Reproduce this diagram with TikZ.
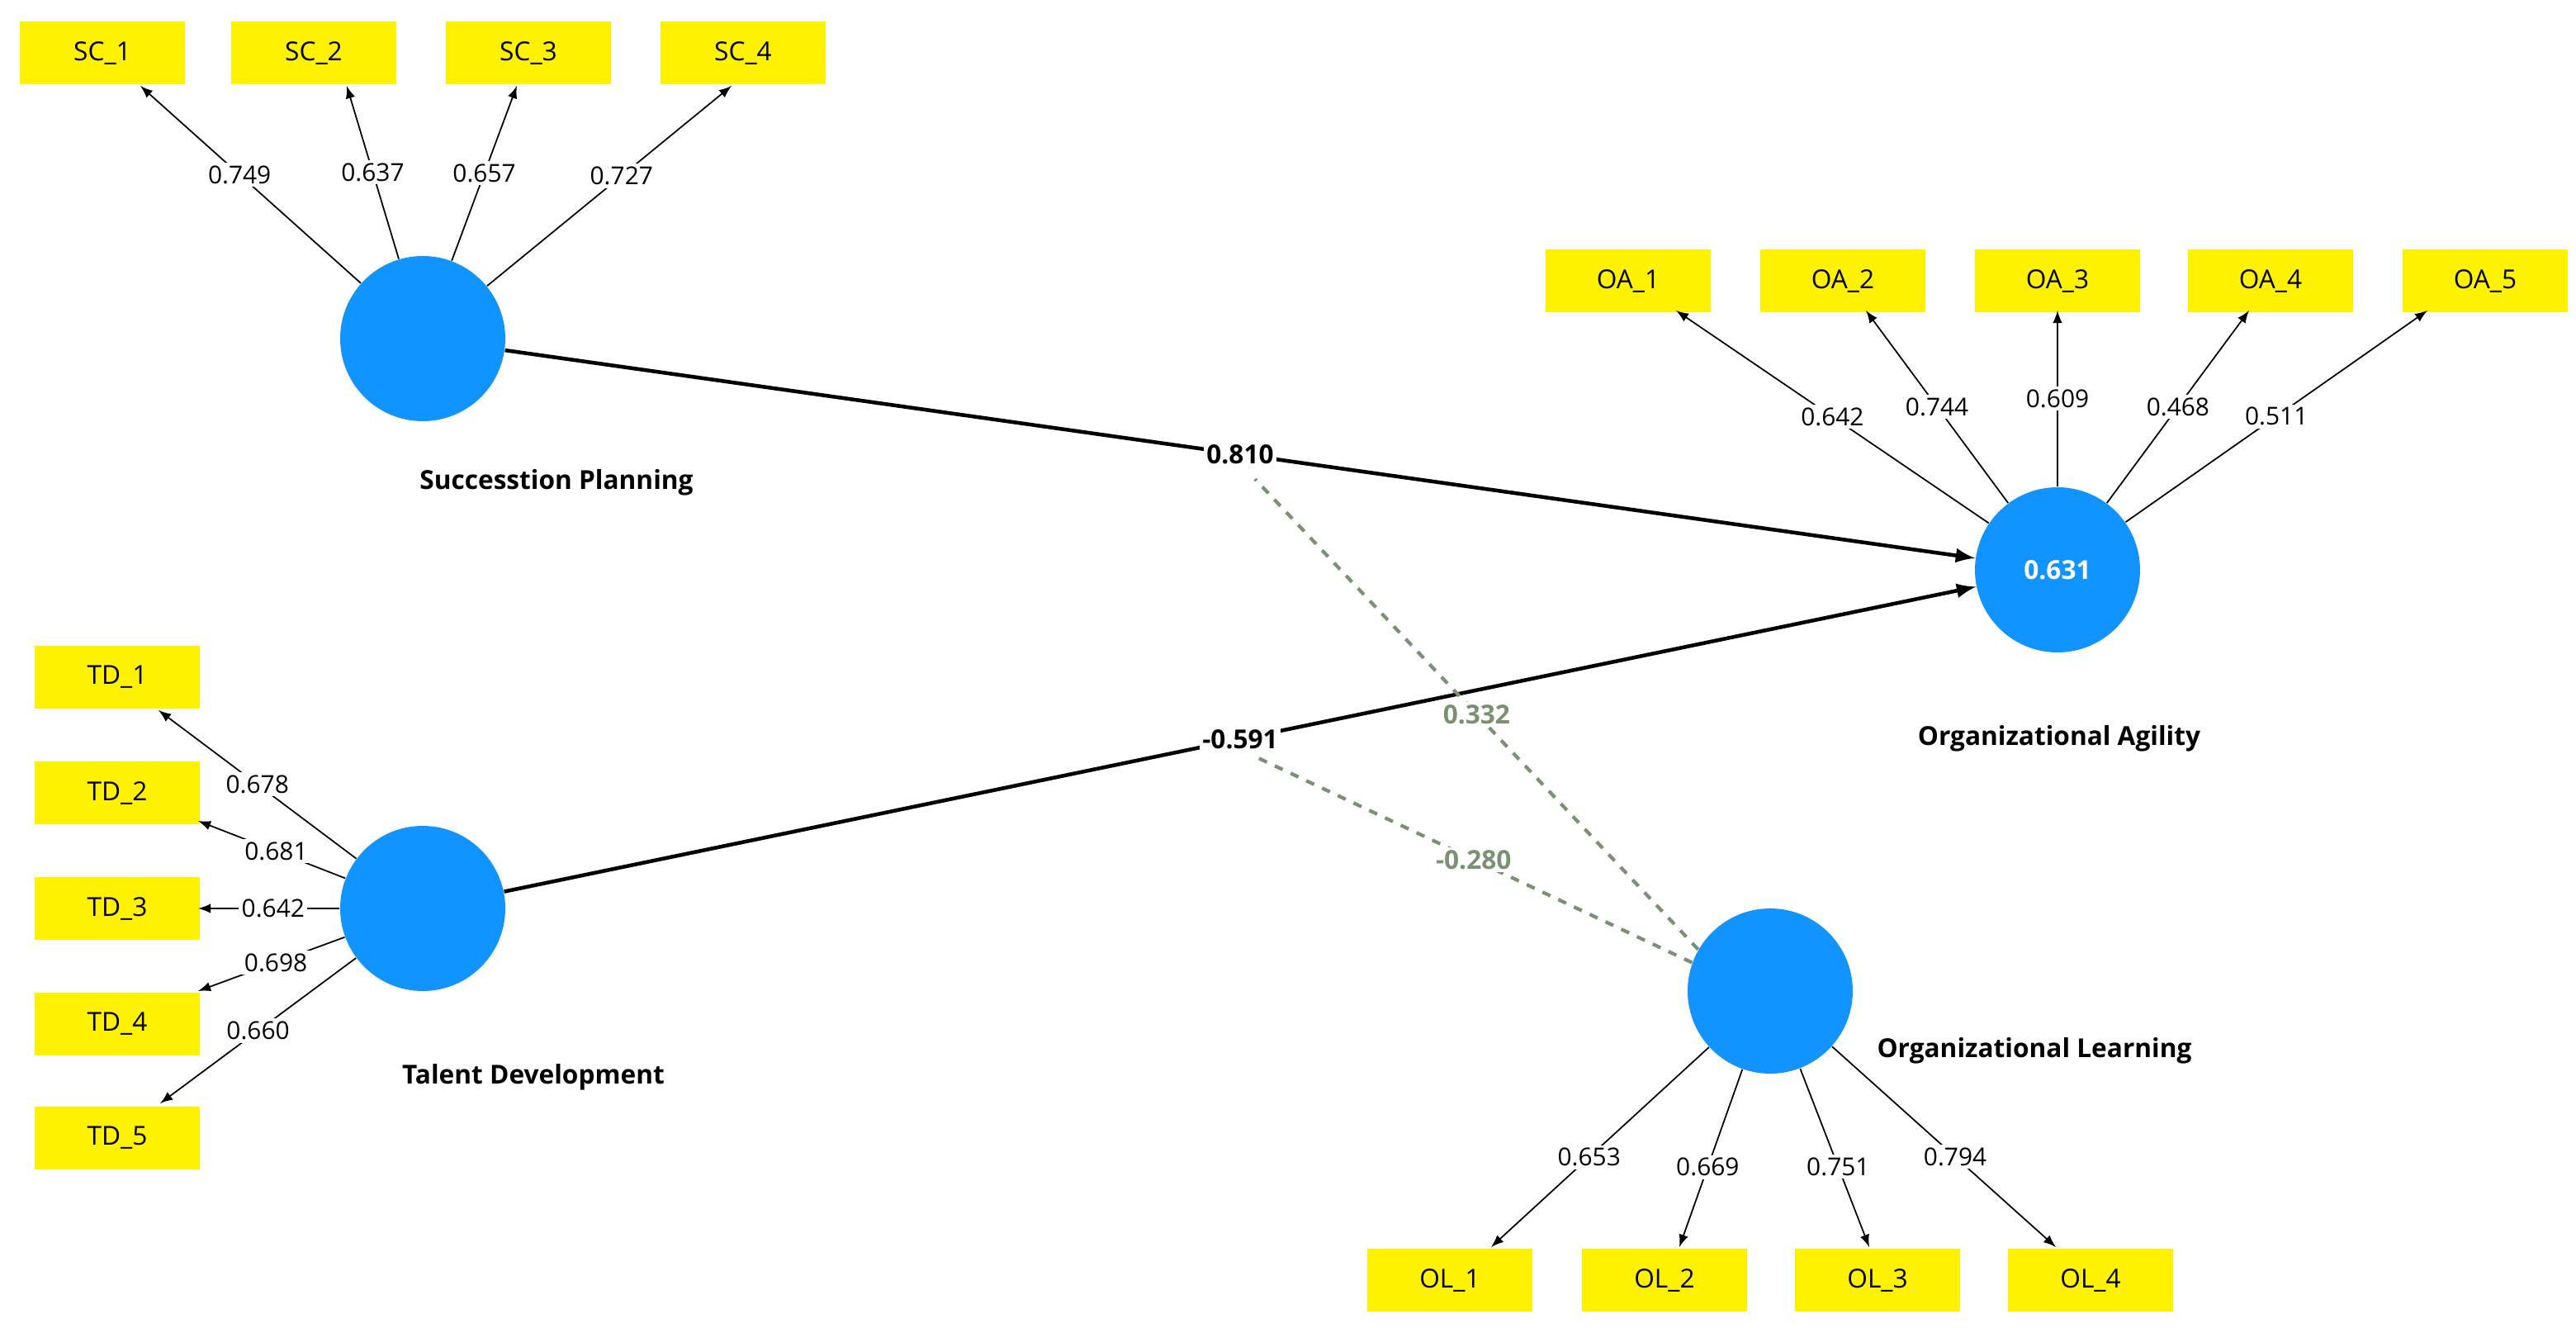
\documentclass[tikz,border=0pt]{standalone}
\usepackage{fontspec}
\setmainfont{Open Sans}
\begin{document}
\begin{tikzpicture}[x=0.02cm,y=-0.02cm,
 ind/.style={draw=none,fill=yellow,minimum width=2cm,minimum height=0.76cm,inner sep=0pt,font=\fontsize{9}{10}\selectfont},
 lv/.style={circle,fill={rgb,255:red,17;green,148;blue,255},minimum size=2cm,inner sep=0pt},
 ld/.style={fill=white,inner sep=1pt,font=\fontsize{8.5}{10}\selectfont},
 ln/.style={font=\bfseries\fontsize{9}{10}\selectfont},
 ar/.style={-latex,line width=0.5pt},
 pa/.style={-latex,line width=1.3pt},
 da/.style={dashed,line width=1.2pt,draw={rgb,255:red,122;green,145;blue,115}}]
\useasboundingbox (0,0) rectangle (1560,804);
% Succession planning
\node[lv] (SP) at (256,205) {};
\node[ind] (SC1) at (62,32) {SC\_1};
\node[ind] (SC2) at (190,32) {SC\_2};
\node[ind] (SC3) at (320,32) {SC\_3};
\node[ind] (SC4) at (450,32) {SC\_4};
\coordinate (sc1) at (85,52);\coordinate (sc2) at (210,52);\coordinate (sc3) at (313,52);\coordinate (sc4) at (443,52);
\foreach \t/\l/\p in {sc1/0.749/0.55,sc2/0.637/0.5,sc3/0.657/0.5,sc4/0.727/0.55}
 \draw[ar] (SP) -- node[ld,pos=\p]{\l} (\t);
\node[ln] (SPl) at (337,292) {Successtion Planning};
% Org agility
\node[lv] (OA) at (1246,345) {\textcolor{white}{\bfseries\fontsize{9}{10}\selectfont 0.631}};
\foreach \i/\x in {1/986,2/1116,3/1246,4/1375,5/1505}
 \node[ind] (OA\i) at (\x,170) {OA\_\i};
\coordinate (oa1) at (1015,188);\coordinate (oa2) at (1130,188);\coordinate (oa3) at (1246,188);\coordinate (oa4) at (1362,188);\coordinate (oa5) at (1470,188);
\foreach \t/\l/\p in {oa1/0.642/0.5,oa2/0.744/0.5,oa3/0.609/0.5,oa4/0.468/0.5,oa5/0.511/0.5}
 \draw[ar] (OA) -- node[ld,pos=\p]{\l} (\t);
\node[ln] (OAl) at (1247,447) {Organizational Agility};
% Talent development
\node[lv] (TD) at (256,550) {};
\foreach \i/\y in {1/410,2/480,3/550,4/620,5/689}
 \node[ind] (TD\i) at (71,\y) {TD\_\i};
\coordinate (td1) at (96,430);\coordinate (td2) at (120,497);\coordinate (td3) at (120,550);\coordinate (td4) at (120,600);\coordinate (td5) at (97,668);
\foreach \t/\l/\p in {td1/0.678/0.5,td2/0.681/0.47,td3/0.642/0.47,td4/0.698/0.47,td5/0.660/0.5}
 \draw[ar] (TD) -- node[ld,pos=\p]{\l} (\t);
\node[ln] (TDl) at (323,652) {Talent Development};
% Org learning
\node[lv] (OL) at (1072,600) {};
\foreach \i/\x in {1/878,2/1008,3/1137,4/1266}
 \node[ind] (OL\i) at (\x,775) {OL\_\i};
\coordinate (ol1) at (903,755);\coordinate (ol2) at (1017,755);\coordinate (ol3) at (1132,755);\coordinate (ol4) at (1245,755);
\foreach \t/\l/\p in {ol1/0.653/0.55,ol2/0.669/0.55,ol3/0.751/0.55,ol4/0.794/0.55}
 \draw[ar] (OL) -- node[ld,pos=\p]{\l} (\t);
\node[ln] (OLl) at (1232,636) {Organizational Learning};
% structural paths
\draw[pa] (SP) -- node[ld,font=\bfseries\fontsize{9}{10}\selectfont,pos=0.5]{0.810} (OA);
\draw[pa] (TD) -- node[ld,font=\bfseries\fontsize{9}{10}\selectfont,pos=0.5]{-0.591} (OA);
\coordinate (m1) at (760,290);
\coordinate (m2) at (760,458);
\draw[da] (OL.150) -- node[ld,pos=0.5,text={rgb,255:red,122;green,145;blue,115},font=\bfseries\fontsize{9}{10}\selectfont]{0.332} (m1);
\draw[da] (OL.160) -- node[ld,pos=0.5,text={rgb,255:red,122;green,145;blue,115},font=\bfseries\fontsize{9}{10}\selectfont]{-0.280} (m2);
\end{tikzpicture}
\end{document}
